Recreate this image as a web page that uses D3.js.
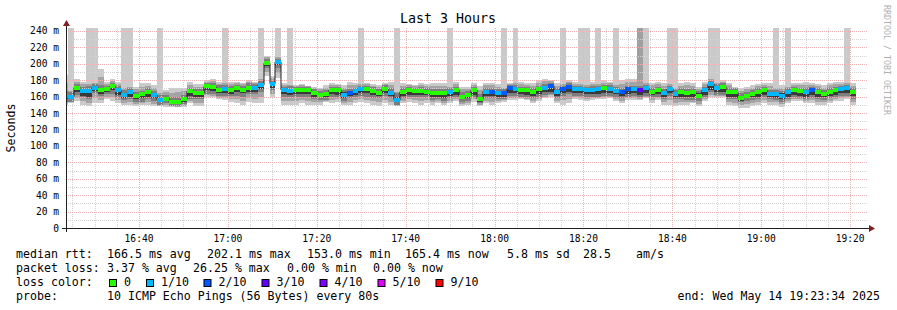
<!DOCTYPE html>
<html>
<head>
<meta charset="utf-8">
<script src="https://cdn.jsdelivr.net/npm/d3@7"></script>
<style>
body { margin: 0; background: #fff; }
text { font-family: "DejaVu Sans Mono", monospace; fill: #000; }
</style>
</head>
<body>
<svg id="chart" width="897" height="310"></svg>
<script>
// smokeping "Last 3 Hours" graph, 80s steps

var title = "Last 3 Hours";
var yLabel = "Seconds";
var yTop = 243.5;                                   // upper limit of the graph (ms)
var yTicks = [0, 20, 40, 60, 80, 100, 120, 140, 160, 180, 200, 220, 240];

// median rtt per step (ms)
var median = [161,160,171,167,167,171,168.5,169,172.6,168,
    162.5,165,160.6,163,165,162,156,157.5,153,153.5,
    156.8,167,164,164,172.5,171.6,168.5,169,167.5,170,
    168,171,170,174,200.6,175.5,202.1,168,167.3,168,
    168,168,164,162,163,168,168,162,164,167,
    169.2,168.8,166.4,164.8,168.8,164.8,156,166,168,167,
    167,166,164,164.8,164,166,168,160,162,168,
    157,166,166,164,164,170,169,168,168,165,
    169,171,173,165,169,172,169,169,168,168,
    169,170,169,167,166,169,169,168,170,166,
    168,164,169,163.6,165,164,165,161,168,175,
    171,172,166,165,158,161,163,165,168,163.6,
    163.6,160.8,165,168,167,165,167.6,165,163,166,
    168,169,170,165.4];

// lost pings per step (index into lossColors)
var loss = [1,1,0,1,1,1,0,0,0,1,
    1,1,0,0,0,1,1,0,0,0,
    0,0,0,0,0,0,0,1,0,0,
    0,0,1,1,0,1,1,1,1,0,
    0,0,0,0,0,0,0,1,2,1,
    1,0,0,0,0,1,1,0,0,0,
    0,0,0,0,0,1,0,0,0,0,
    0,1,2,1,2,2,1,0,0,0,
    0,1,2,1,2,2,1,1,1,1,
    1,0,1,1,2,2,1,3,1,0,
    0,1,1,1,0,0,0,0,1,1,
    1,0,0,0,0,0,0,0,0,1,
    1,1,1,0,0,1,2,0,0,0,
    0,1,1,0];

// smoke: fastest and slowest ping per step (ms)
var rttMin = [150,152,155,150,148,152,152,157,155,152,
    150,150,148,150,150,148,148,147,147,147,
    147,152,148,148,160,160,157,156,154,152,
    150,154,152,152,185,160,183,150,150,150,
    152,150,150,150,154,152,154,150,150,152,
    154,152,150,148,152,150,148,152,154,152,
    150,152,150,152,150,152,155,148,150,154,
    148,152,150,152,154,156,156,157,156,152,
    155,158,160,152,150,152,157,156,155,156,
    157,157,158,155,152,156,156,156,158,152,
    156,150,150,148,150,150,152,148,155,160,
    160,160,150,148,146,146,148,150,152,150,
    150,147,152,155,155,152,152,150,150,152,
    155,155,157,150];
var rttMax = [186,180,181,178,178,180,193,178,182,178,
    175,177,172,177,176,174,170,168,170,171,
    171,178,175,175,180,182,178,181,178,178,
    177,180,178,180,210,185,208,176,175,174,
    175,173,172,171,174,176,175,174,178,176,
    180,177,175,174,177,178,175,176,175,174,
    176,175,177,176,176,178,178,172,172,176,
    173,177,176,175,176,177,178,178,176,176,
    180,182,180,176,180,180,178,178,178,178,
    180,180,178,176,180,182,182,182,180,177,
    178,177,178,176,176,178,176,172,178,182,
    181,180,176,172,170,172,174,175,176,177,
    174,174,176,176,176,178,176,175,174,176,
    178,178,182,176];

// inner smoke, ms below / above the median
var innerDown = [7,6,9,8,10,7,8,6,9,8,7,8,7,9,8,7,6,5,4,5,6,10,7,7,9,9,8,8,7,9,8,8,7,8,
    6,8,7,8,8,8,9,8,7,6,7,8,9,7,6,8,8,9,8,7,8,7,6,8,9,8,8,7,8,8,9,8,9,6,
    7,9,5,8,8,7,7,9,8,8,9,7,9,9,10,7,8,9,8,8,8,8,9,9,8,7,8,9,8,9,9,7,8,7,
    8,7,8,8,9,6,9,10,9,10,9,8,5,6,7,8,9,7,8,7,8,9,9,8,9,8,7,8,9,8,9,8];
var innerUp = [6,5,4,5,6,4,5,4,4,5,6,5,5,4,5,5,6,5,6,6,5,4,5,5,4,5,5,5,5,4,5,5,5,5,
    5,4,4,4,5,4,4,4,5,5,5,4,4,6,5,4,4,4,5,4,5,6,8,4,4,4,5,5,5,4,5,4,4,6,
    5,4,6,5,5,5,5,4,5,4,4,5,4,4,4,5,4,4,4,4,4,5,4,4,5,5,4,4,4,5,4,5,4,5,
    4,5,5,5,5,6,4,4,4,4,5,5,6,5,5,5,4,5,5,6,5,4,4,5,4,5,5,5,4,4,4,5];
var coreDown = [4,3,5,6,7,4,5,3,5,6,4,5,4,5,5,4,3,3,2,3,3,6,4,4,5,5,4,5,4,5,4,5,4,5,
    3,5,4,5,5,5,5,5,4,3,4,5,6,4,3,5,5,5,5,4,5,4,3,5,6,5,5,4,5,5,6,5,6,3,
    4,6,3,5,5,4,4,6,5,5,6,4,6,6,7,4,5,6,5,5,5,5,6,6,5,4,5,6,5,6,6,4,5,4,
    5,4,5,5,6,3,6,7,6,7,6,5,3,3,4,5,6,4,5,4,5,6,6,5,6,5,4,5,6,5,6,5];
var coreUp = [2,2,1,2,2,1,2,1,1,2,2,2,2,1,2,2,2,2,3,2,2,1,2,2,1,2,2,2,2,1,2,2,2,2,
    2,1,1,1,2,1,1,1,2,2,2,1,1,3,2,1,1,1,2,1,2,2,3,1,1,1,2,2,2,1,2,1,1,2,
    2,1,3,2,2,2,2,1,2,1,1,2,1,1,1,2,1,1,1,1,1,2,1,1,2,2,1,1,1,2,1,2,1,2,
    1,2,2,2,2,3,1,1,1,1,2,2,3,2,2,2,1,2,2,3,2,1,1,2,1,2,2,2,1,1,1,2];

// steps where the slowest pings are missing (smoke runs off the top)
var spikeSteps = [1,4,5,10,11,16,27,33,36,38,50,56,65,74,76,84,87,88,90,93,97,98,102,103,109,110,120,122,132];
var spikeDark = [97];

var lossColors = ["#26ff00", "#00b8ff", "#0059ff", "#5e00ff", "#7e00ff", "#dd00ff", "#ff0000"];
var lossLabels = ["0", "1/10", "2/10", "3/10", "4/10", "5/10", "9/10"];

var rttStats = ["166.5 ms avg", "202.1 ms max", "153.0 ms min", "165.4 ms now", "5.8 ms sd", "28.5", "am/s"];
var lossStats = ["3.37 % avg", "26.25 % max", "0.00 % min", "0.00 % now"];
var probeText = "10 ICMP Echo Pings (56 Bytes) every 80s";
var endText = "end: Wed May 14 19:23:34 2025";

var tStart = new Date(2025, 4, 14, 16, 23, 34),
    tEnd = new Date(2025, 4, 14, 19, 23, 34),
    firstStep = new Date(2025, 4, 14, 16, 22, 42),
    stepMs = 80000;

// ---------------------------------------------------------------

var svg = d3.select("#chart");
var L = 66, R = 866, T = 28, B = 228;

var x = d3.scaleTime().domain([tStart, tEnd]).range([L, R]);
var y = d3.scaleLinear().domain([0, yTop]).range([B, T]);

svg.append("rect").attr("width", 897).attr("height", 310).attr("fill", "#fff");

svg.append("clipPath").attr("id", "clip")
    .append("rect").attr("x", L).attr("y", T).attr("width", R - L).attr("height", B - T);

var steps = median.map(function (m, i) {
    var t0 = new Date(+firstStep + i * stepMs), t1 = new Date(+firstStep + (i + 1) * stepMs);
    return {
        i: i, t0: t0, t1: t1, med: m, loss: loss[i],
        x0: Math.round(x(t0)), x1: Math.round(x(t1)),
        spike: spikeSteps.indexOf(i) >= 0, dark: spikeDark.indexOf(i) >= 0
    };
});

var smoke = svg.append("g").attr("clip-path", "url(#clip)").attr("shape-rendering", "crispEdges");

function band(cls, color, lo, hi) {
    smoke.selectAll("rect." + cls).data(steps).enter().append("rect")
        .attr("class", cls)
        .attr("x", function (d) { return d.x0; })
        .attr("width", function (d) { return d.x1 - d.x0; })
        .attr("y", function (d) { return y(hi(d)); })
        .attr("height", function (d) { return Math.max(0, y(lo(d)) - y(hi(d))); })
        .attr("fill", color);
}

band("outer", "#cacaca",
    function (d) { return rttMin[d.i]; },
    function (d) { return d.spike ? yTop : rttMax[d.i]; });
// darker run-off where several pings are lost
smoke.selectAll("rect.dark").data(steps.filter(function (d) { return d.dark; })).enter().append("rect")
    .attr("class", "dark")
    .attr("x", function (d) { return d.x0; })
    .attr("width", function (d) { return d.x1 - d.x0; })
    .attr("y", y(yTop))
    .attr("height", function (d) { return y(d.med) - y(yTop); })
    .attr("fill", "#a0a0a0");
band("outer2", "#a4a4a4",
    function (d) { return (rttMin[d.i] + d.med - innerDown[d.i]) / 2; },
    function (d) { return d.spike ? d.med + innerUp[d.i] + 2 : (rttMax[d.i] + d.med + innerUp[d.i]) / 2; });
band("inner", "#7e7e7e",
    function (d) { return d.med - innerDown[d.i]; },
    function (d) { return d.med + innerUp[d.i]; });
band("core", "#3a3a3a",
    function (d) { return d.med - coreDown[d.i]; },
    function (d) { return d.med + coreUp[d.i]; });

// grid
var grid = svg.append("g").attr("shape-rendering", "crispEdges");
var minorY = d3.range(10, yTop, 10).filter(function (v) { return v % 20 !== 0; });
var majorY = yTicks.filter(function (v) { return v > 0; });
var xTicks = d3.timeMinute.every(5).range(tStart, tEnd);
var minorX = xTicks.filter(function (t) { return t.getMinutes() % 20 !== 0; });
var majorX = xTicks.filter(function (t) { return t.getMinutes() % 20 === 0; });

function gridLines(cls, data, horizontal, color) {
    grid.selectAll("line." + cls).data(data).enter().append("line")
        .attr("class", cls)
        .attr("x1", function (v) { return horizontal ? L : Math.round(x(v)) + 0.5; })
        .attr("x2", function (v) { return horizontal ? R + 2 : Math.round(x(v)) + 0.5; })
        .attr("y1", function (v) { return horizontal ? Math.round(y(v)) + 0.5 : T; })
        .attr("y2", function (v) { return horizontal ? Math.round(y(v)) + 0.5 : B; })
        .attr("stroke", color).attr("stroke-dasharray", "1,1");
}
gridLines("my", minorY, true, "#d2d2d2");
gridLines("mx", minorX, false, "#d2d2d2");
gridLines("My", majorY, true, "#efb2b2");
gridLines("Mx", majorX, false, "#efb2b2");

// median: thin black step line plus loss-coloured segments
var medPts = steps.map(function (d) { return [d.x0, y(d.med)]; });
var last = steps[steps.length - 1];
medPts.push([last.x1, y(last.med)]);
var medG = svg.append("g").attr("clip-path", "url(#clip)");
medG.append("path")
    .attr("d", d3.line().curve(d3.curveStepAfter)(medPts))
    .attr("fill", "none").attr("stroke", "#202020").attr("stroke-width", 1);
medG.selectAll("rect.med").data(steps).enter().append("rect")
    .attr("x", function (d) { return d.x0; })
    .attr("width", function (d) { return d.x1 - d.x0; })
    .attr("y", function (d) { return Math.round(y(d.med)) - 2; })
    .attr("height", 4)
    .attr("fill", function (d) { return lossColors[d.loss]; })
    .attr("shape-rendering", "crispEdges");

// axes
var axis = svg.append("g");
axis.append("line").attr("x1", 62).attr("x2", 870).attr("y1", B + 0.5).attr("y2", B + 0.5)
    .attr("stroke", "#202020").attr("shape-rendering", "crispEdges");
axis.append("line").attr("x1", L + 0.5).attr("x2", L + 0.5).attr("y1", 232).attr("y2", 24)
    .attr("stroke", "#202020").attr("shape-rendering", "crispEdges");
axis.append("path").attr("d", "M869,225 L875,228.5 L869,232 Z").attr("fill", "#801f1f");
axis.append("path").attr("d", "M63,26 L66.5,20 L70,26 Z").attr("fill", "#801f1f");

axis.selectAll("text.yl").data(yTicks).enter().append("text")
    .attr("x", 59).attr("y", function (v) { return y(v) + 3.5; })
    .attr("text-anchor", "end").attr("font-size", "9.6px")
    .text(function (v) { return v === 0 ? "0" : v + " m"; });
axis.selectAll("text.xl").data(majorX).enter().append("text")
    .attr("x", function (t) { return x(t); }).attr("y", 242)
    .attr("text-anchor", "middle").attr("font-size", "9.6px")
    .text(d3.timeFormat("%H:%M"));

svg.append("text").attr("x", 448).attr("y", 23).attr("text-anchor", "middle")
    .attr("font-size", "13.3px").text(title);
svg.append("text").attr("transform", "translate(15,128) rotate(-90)")
    .attr("text-anchor", "middle").attr("font-size", "11.6px").text(yLabel);
svg.append("text").attr("transform", "translate(884,5) rotate(90)")
    .attr("font-size", "8.3px").style("fill", "#b0b0b0").text("RRDTOOL / TOBI OETIKER");

// legend
var leg = svg.append("g").attr("font-size", "11.6px").attr("xml:space", "preserve");
var rttX = [107, 207, 307, 405, 507, 583, 636];
leg.append("text").attr("x", 16).attr("y", 258).text("median rtt:");
rttStats.forEach(function (s, i) { leg.append("text").attr("x", rttX[i]).attr("y", 258).text(s); });
var lossX = [107, 193, 287, 373];
leg.append("text").attr("x", 16).attr("y", 272).text("packet loss:");
lossStats.forEach(function (s, i) { leg.append("text").attr("x", lossX[i]).attr("y", 272).text(s); });
leg.append("text").attr("x", 16).attr("y", 286).text("loss color:");
var boxX = [109, 146, 203.5, 261.5, 319.5, 377.5, 435.5];
lossColors.forEach(function (c, i) {
    leg.append("rect").attr("x", boxX[i] + 0.5).attr("y", 279.5).attr("width", 7).attr("height", 7)
        .attr("fill", c).attr("stroke", "#000").attr("stroke-width", 1);
    leg.append("text").attr("x", boxX[i] + 15).attr("y", 286).text(lossLabels[i]);
});
leg.append("text").attr("x", 16).attr("y", 300).text("probe:");
leg.append("text").attr("x", 107).attr("y", 300).text(probeText);
leg.append("text").attr("x", 880).attr("y", 300).attr("text-anchor", "end").text(endText);
</script>
</body>
</html>
